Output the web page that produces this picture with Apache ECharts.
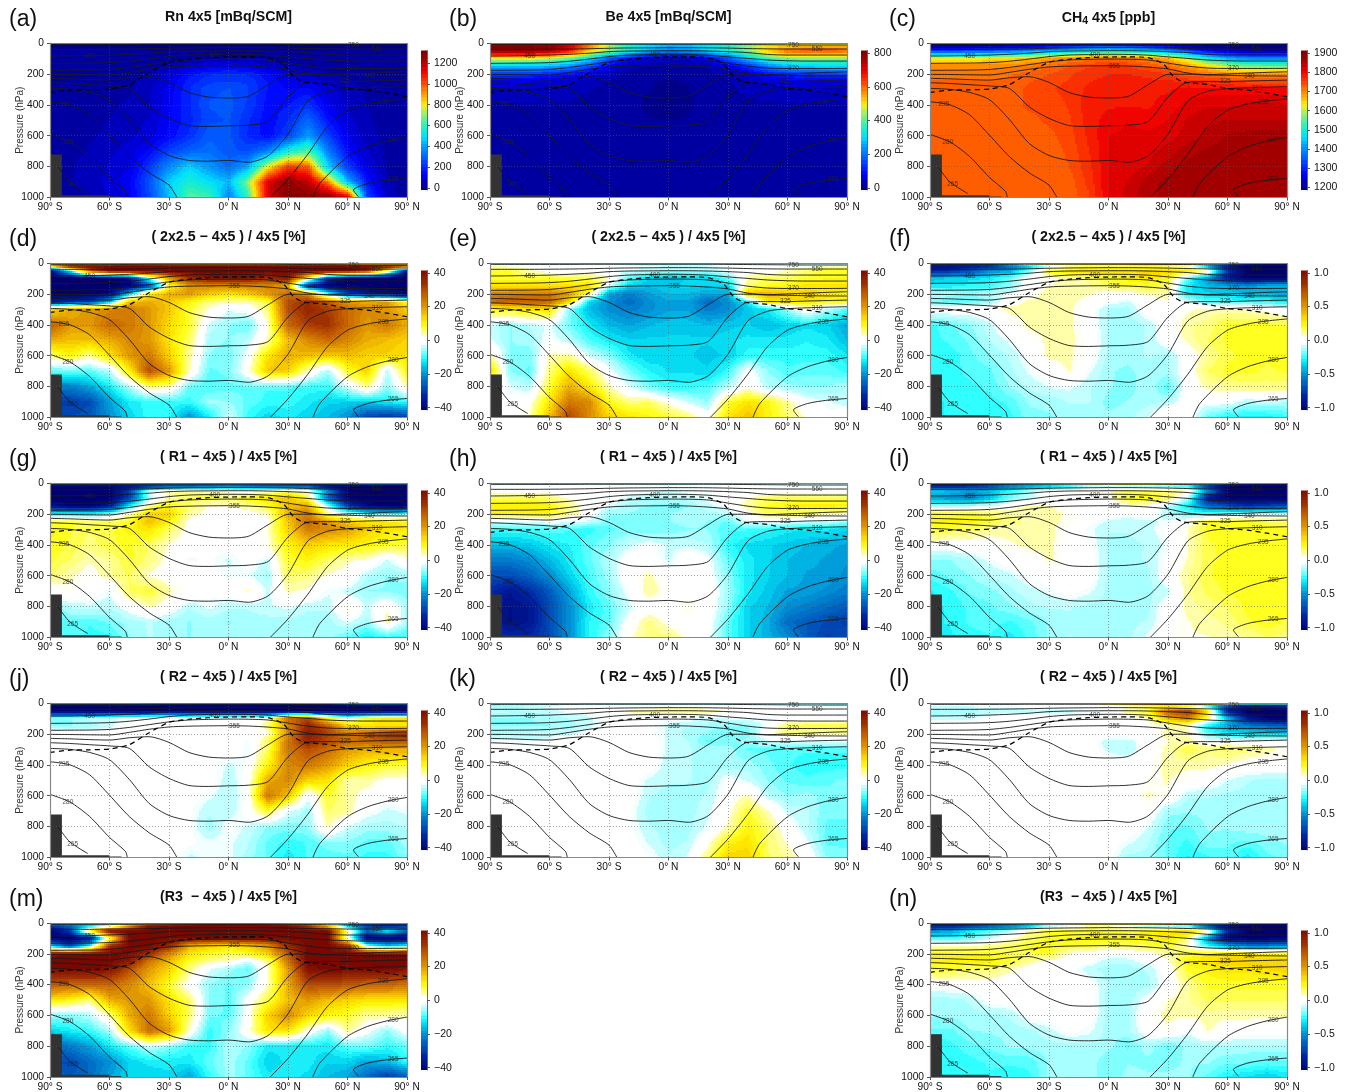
<!DOCTYPE html>
<html><head><meta charset="utf-8">
<style>html,body{margin:0;padding:0;background:#fff}#c{width:1345px;height:1092px}</style>
<script src="https://cdn.jsdelivr.net/npm/echarts@6/dist/echarts.min.js"></script>
</head><body><div id="c"></div>
<script>
const latNodes=[-90,-80,-70,-60,-50,-40,-30,-20,-10,0,10,20,30,40,50,60,70,80,90];
const pressureLevels=[0,20,50,100,150,200,250,300,400,500,600,700,800,900,1000];

const rn4x5=[
[5,5,5,5,5,5,5,5,5,5,5,5,5,5,5,5,5,5,5],
[10,10,10,10,10,10,10,10,10,10,10,10,10,10,10,10,10,10,10],
[15,15,15,15,15,15,15,15,15,15,15,15,15,15,15,15,15,15,15],
[20,20,20,20,20,20,25,30,40,50,45,35,30,25,20,20,20,20,20],
[25,25,25,25,25,30,40,80,110,120,110,80,50,35,25,25,25,25,25],
[30,30,30,30,30,50,90,160,200,210,200,150,90,70,45,35,30,30,30],
[30,30,30,30,35,60,110,190,230,240,230,170,120,110,70,50,35,30,30],
[30,30,30,35,40,70,120,200,260,270,240,170,140,150,90,60,40,30,30],
[30,30,30,40,50,70,130,200,270,280,230,160,170,220,120,70,45,30,30],
[30,30,30,45,60,80,140,190,260,270,210,150,200,310,170,90,50,30,30],
[30,30,35,60,70,90,150,210,290,280,200,150,240,400,240,110,60,30,30],
[35,35,50,70,90,150,240,300,320,280,260,350,550,640,350,150,80,35,30],
[40,40,60,80,110,220,380,480,400,320,420,800,1050,1000,500,230,110,40,30],
[40,40,60,90,130,270,480,560,500,450,700,1150,1280,1200,950,450,170,50,30],
[30,30,50,80,120,250,450,650,620,350,600,1150,1300,1300,1300,1200,250,60,30]];
const be4x5=[
[760,760,760,760,700,560,420,330,280,260,270,290,330,400,440,460,470,470,470],
[800,800,800,800,720,600,450,350,300,270,280,310,360,430,500,520,540,540,540],
[780,780,780,760,680,520,430,340,260,220,240,300,340,420,520,600,610,610,600],
[520,520,510,480,430,330,190,100,60,50,55,80,180,290,400,440,440,440,440],
[300,300,290,280,240,170,80,40,25,20,22,30,70,130,220,280,300,310,310],
[140,140,135,120,100,70,40,20,12,10,12,18,35,60,100,130,140,140,150],
[70,70,65,60,50,35,25,14,8,7,8,12,25,35,50,60,65,70,70],
[45,45,45,40,35,28,22,12,8,6,7,12,25,30,35,40,45,45,45],
[25,25,25,25,25,22,20,10,6,5,6,12,22,25,25,25,25,25,25],
[18,18,18,18,18,18,18,10,8,8,8,14,18,18,18,18,18,18,18],
[18,18,18,18,18,18,18,18,18,18,18,18,18,18,18,18,18,18,18],
[18,18,18,18,18,18,18,18,18,18,18,18,18,18,18,18,18,18,18],
[18,18,18,18,18,18,18,18,18,18,18,18,18,18,18,18,18,18,18],
[18,18,18,18,18,18,18,18,18,18,18,18,18,18,18,18,18,18,18],
[18,18,18,18,18,18,18,18,18,18,18,18,18,18,18,18,18,18,18]];
const ch44x5=[
[1180,1180,1180,1180,1180,1180,1180,1180,1180,1180,1180,1180,1180,1180,1180,1180,1180,1180,1180],
[1210,1210,1210,1220,1230,1240,1260,1280,1300,1310,1300,1280,1250,1220,1200,1190,1190,1190,1190],
[1330,1330,1340,1350,1370,1400,1430,1470,1500,1510,1500,1470,1420,1340,1270,1240,1220,1220,1220],
[1620,1620,1620,1630,1640,1660,1680,1700,1710,1720,1710,1700,1670,1590,1480,1420,1390,1390,1390],
[1700,1700,1700,1700,1700,1710,1720,1740,1755,1765,1760,1740,1720,1690,1640,1590,1560,1550,1550],
[1715,1715,1715,1715,1720,1730,1740,1755,1770,1775,1775,1770,1760,1730,1720,1700,1690,1690,1690],
[1725,1725,1725,1725,1730,1740,1750,1760,1775,1780,1785,1780,1780,1775,1770,1760,1750,1750,1750],
[1725,1725,1725,1728,1732,1745,1755,1765,1780,1785,1790,1790,1790,1800,1800,1800,1800,1800,1800],
[1725,1725,1725,1725,1730,1745,1745,1760,1785,1790,1790,1790,1800,1815,1825,1825,1830,1830,1830],
[1725,1725,1725,1725,1725,1735,1745,1755,1785,1800,1810,1800,1810,1830,1840,1845,1845,1845,1845],
[1725,1725,1725,1725,1725,1730,1735,1750,1780,1810,1815,1815,1820,1835,1850,1865,1870,1870,1870],
[1725,1725,1725,1725,1725,1728,1730,1745,1775,1810,1815,1820,1835,1855,1865,1870,1870,1870,1870],
[1725,1725,1725,1725,1725,1725,1728,1740,1770,1810,1815,1830,1855,1870,1870,1870,1870,1870,1870],
[1725,1725,1725,1725,1725,1725,1725,1730,1765,1810,1830,1855,1870,1870,1870,1870,1870,1870,1870],
[1725,1725,1725,1725,1725,1725,1725,1728,1755,1810,1835,1855,1870,1875,1875,1875,1875,1875,1875]];
const diffD=[
[10,10,10,15,20,20,15,10,10,10,10,15,15,15,15,10,10,10,10],
[20,42,42,42,42,42,42,42,42,42,42,42,42,42,42,42,42,42,38],
[-40,-12,28,42,42,42,42,42,42,42,42,42,42,42,42,42,35,5,-40],
[-42,-42,-42,-42,-38,-5,20,35,40,40,40,35,40,10,-30,-42,-42,-42,-42],
[-42,-42,-42,-42,-42,-30,8,20,22,22,22,22,18,-35,-42,-42,-42,-42,-42],
[-42,-42,-42,-40,-15,12,18,20,15,12,15,20,26,22,-8,-30,-35,-38,-42],
[-35,-32,-30,-15,16,18,15,10,5,4,3,8,30,34,28,20,18,20,8],
[12,18,20,22,24,20,15,8,2,-2,0,5,30,36,32,26,22,20,15],
[28,20,20,26,24,20,13,8,-3,-6,-8,2,26,32,34,26,20,24,18],
[18,16,16,18,22,20,12,6,-5,-6,-4,3,16,22,26,22,18,16,14],
[5,10,4,12,20,24,14,4,-6,-7,-1,12,18,16,14,16,14,14,12],
[-8,-8,-8,-4,10,30,20,3,-8,-7,1,15,14,3,-5,8,14,-4,10],
[-22,-22,-18,-12,-5,4,3,-8,-9,-8,-8,-9,-9,-10,-10,-3,4,-6,3],
[-30,-30,-28,-18,-12,-10,-10,-10,-5,-6,-8,-10,-10,-12,-14,-14,-14,-12,-10],
[-26,-28,-26,-20,-14,-10,-10,-20,-12,-2,-10,-14,-12,-14,-16,-20,-30,-32,-30]];
const diffE=[
[-5,-5,-5,-5,-5,-5,-5,-8,-10,-10,-10,-10,-5,-5,-5,-5,-5,-5,-5],
[2,1,1,1,0,0,0,0,-2,-2,-2,-2,0,1,1,1,1,2,2],
[8,8,3,1,1,1,-1,-3,-4,-5,-5,-5,-2,1,1,3,6,9,9],
[8,8,8,8,7,6,3,-8,-14,-16,-14,-14,-8,4,6,6,8,9,9],
[12,12,12,12,12,14,-3,-14,-16,-14,-14,-14,-14,5,8,10,12,12,12],
[22,24,24,24,20,6,-18,-22,-18,-16,-16,-18,-18,16,18,14,14,12,10],
[26,28,28,26,14,-14,-20,-24,-20,-18,-18,-24,-20,-12,12,12,12,10,10],
[8,10,12,12,-6,-16,-20,-22,-20,-18,-18,-22,-20,-15,-12,-5,2,-4,-8],
[-3,-6,-4,-2,-7,-12,-16,-18,-16,-15,-15,-16,-15,-14,-16,-14,-13,-14,-18],
[-2,-6,-5,-1,-4,-9,-12,-14,-14,-14,-14,-14,-13,-12,-12,-12,-11,-12,-16],
[4,-6,-7,3,4,-3,-6,-12,-14,-13,-14,-15,-14,-10,-10,-10,-10,-10,-12],
[14,-6,-8,5,12,6,-1,-7,-11,-13,-13,-14,-10,0,-6,-9,-8,-8,-10],
[0,-2,-4,8,18,12,3,-2,-7,-10,-10,-9,-4,2,-4,-5,-6,-6,-4],
[0,-1,1,12,24,22,9,5,6,1,-3,-6,8,12,10,4,-1,-2,-4],
[0,0,3,16,32,22,14,12,10,8,6,0,12,16,10,6,2,-1,2]];
const diffF=[
[-.6,-.6,-.6,-.5,-.2,.3,.3,.3,.4,.4,.6,.9,.9,.6,.2,-.3,-.8,-.9,-.9],
[-.95,-.95,-.9,-.85,-.6,-.4,-.1,.05,.12,.15,.15,.15,.1,.05,-.5,-.95,-1.05,-1.05,-1.05],
[-.85,-.8,-.7,-.5,-.45,-.15,.2,.3,.35,.3,.3,.35,.35,.3,.1,-.8,-1.05,-1.05,-1.05],
[-.4,-.35,-.35,-.3,-.2,.02,.05,.08,.12,.2,.25,.3,.25,-.2,-.5,-.9,-1.05,-1.05,-1.05],
[-.3,-.3,-.25,-.25,-.15,0,.06,.08,.1,.15,.2,.2,.15,-.3,-.4,-.45,-.5,-.4,-.4],
[-.1,-.12,-.15,-.1,-.06,.02,.1,.1,.07,.02,.03,.08,.1,-.3,-.35,-.35,-.4,-.4,-.45],
[-.2,-.2,-.2,-.15,.02,.08,.08,.08,.03,-.02,-.08,.01,.05,-.05,-.2,-.22,-.22,-.25,-.3],
[0,0,0,.02,.08,.08,.09,.08,0,-.12,-.12,.01,0,.05,.08,.08,.07,.03,-.02],
[-.25,-.2,-.15,-.08,.02,.08,.09,.08,0,-.12,-.13,-.1,0,.1,.12,.2,.2,.2,.2],
[-.25,-.22,-.18,-.1,-.05,.02,.08,.08,.02,-.12,-.13,-.1,0,.08,.15,.2,.2,.2,.2],
[-.27,-.26,-.2,-.15,-.1,-.02,.08,.08,0,-.12,-.13,-.1,-.12,0,.1,.18,.2,.2,.2],
[-.27,-.25,-.22,-.2,-.12,-.05,0,.07,-.05,-.14,-.16,-.12,-.12,0,.15,.2,.2,.18,.2],
[-.28,-.26,-.24,-.22,-.15,-.1,-.06,-.05,-.1,-.14,-.18,-.1,-.22,0,.08,.1,.12,.12,.12],
[-.28,-.27,-.26,-.25,-.22,-.14,-.14,-.1,-.1,-.17,-.14,-.12,-.1,0,-.02,-.02,-.1,-.08,-.1],
[-.28,-.27,-.27,-.27,-.25,-.16,-.15,-.14,-.14,-.13,-.12,-.06,.06,.02,-.2,-.28,-.3,-.3,-.25]];
const diffG=[
[-20,-20,-20,-20,-20,-20,-20,-20,-20,-20,-20,-20,-20,-20,-20,-20,-20,-20,-20],
[-40,-40,-40,-40,-38,-35,-30,-30,-28,-25,-28,-30,-30,-30,-40,-42,-42,-42,-42],
[-42,-42,-42,-42,-30,-2,4,5,3,2,1,2,6,2,-20,-42,-42,-42,-42],
[-42,-42,-42,-42,-30,-5,3,6,8,5,10,12,16,8,-25,-42,-42,-42,-42],
[-38,-42,-42,-36,-12,4,10,6,2,3,4,8,16,18,-5,-30,-40,-42,-42],
[-10,-10,-10,-6,3,14,14,4,1,0,1,3,18,24,6,-3,-8,-10,-8],
[8,8,6,6,8,16,10,1,0,0,0,1,15,26,20,15,12,12,10],
[10,8,6,7,10,12,6,1,0,0,0,2,14,24,22,20,14,12,11],
[9,7,5,7,8,6,2,0,-1,0,0,2,10,14,12,11,10,8,7],
[8,6,3,4,8,5,1,-2,-1,-3,0,-3,8,10,6,3,2,-3,2],
[6,3,1,4,6,2,1,1,0,-2,-2,-5,6,5,2,1,-4,-6,-5],
[0,2,0,-2,6,8,3,1,-1,0,3,-3,3,2,-2,-3,-6,-6,-7],
[-8,-4,-3,-4,-1,3,0,-4,-2,-4,-4,-3,-2,-4,-4,3,-3,2,-5],
[-10,-8,-9,-7,-5,-4,-5,-6,-5,-6,-5,-5,-5,-5,-5,-2,-5,4,-5],
[-9,-8,-10,-10,-6,-4,-5,-6,-5,-5,-5,-4,-5,-5,-5,-8,-12,-10,-10]];
const diffH=[
[-6,-6,-6,-6,-6,-6,-6,-6,-6,-6,-6,-6,-6,-6,-6,-6,-6,-6,-6],
[0,0,0,0,0,0,0,0,-1,-1,-1,0,0,0,0,0,0,0,0],
[1,1,1,1,0,0,0,-1,-2,-3,-2,-2,0,0,0,1,1,1,1],
[7,7,7,5,2,1,0,-3,-4,-4,-3,-2,0,2,6,7,7,7,7],
[10,10,10,10,4,1,-2,-5,-6,-7,-6,-3,-1,4,8,10,10,10,10],
[10,10,10,9,5,0,-6,-6,-7,-6,-5,-5,-4,1,7,6,6,5,3],
[-3,-3,-3,-1,-2,-3,-7,-6,-6,-6,-5,-6,-8,-2,-1,-1,-3,-4,-5],
[-9,-9,-9,-8,-9,-10,-8,-7,-7,-7,-6,-6,-9,-9,-10,-12,-12,-12,-14],
[-16,-16,-15,-12,-11,-8,-6,-3,-1,-3,-3,-4,-10,-13,-14,-15,-16,-17,-18],
[-22,-22,-20,-16,-12,-8,-4,0,0,-3,1,-1,-8,-12,-14,-16,-17,-18,-19],
[-28,-28,-25,-20,-14,-9,-5,1,3,0,1,0,-6,-12,-14,-16,-18,-18,-20],
[-32,-36,-32,-26,-18,-10,-6,-1,4,1,1,1,-5,-12,-15,-18,-18,-20,-22],
[-34,-38,-36,-28,-20,-12,-8,-3,0,1,2,1,-6,-14,-16,-20,-22,-24,-26],
[-34,-38,-36,-28,-20,-11,-8,0,5,1,1,0,-8,-14,-17,-24,-26,-28,-30],
[-30,-32,-32,-28,-20,-11,-6,2,5,5,1,-1,-8,-14,-17,-20,-26,-30,-28]];
const diffI=[
[-.9,-.9,-.9,-.7,-.4,-.3,-.2,0,.2,.2,.5,.4,.4,.2,-.2,-.6,-.8,-.9,-.9],
[-.9,-.9,-.85,-.75,-.6,-.5,-.4,-.3,-.15,-.1,-.2,-.2,-.25,-.3,-.8,-1.05,-1.05,-1.05,-1.05],
[-.35,-.4,-.45,-.4,-.25,-.1,0,0,.05,.05,.2,.15,.12,.1,-.5,-1.05,-1.05,-1.05,-1.05],
[-.45,-.5,-.55,-.4,-.2,-.08,-.02,0,.02,.05,.2,.25,.2,-.1,-.9,-1.05,-1.05,-1.05,-1.05],
[-.15,-.12,-.1,-.08,.02,.08,.07,.01,0,0,.05,.06,-.1,-.3,-.6,-.7,-.8,-.75,-.7],
[.2,.2,.2,.15,.1,.08,.09,.05,0,0,-.02,0,-.1,-.2,-.2,-.15,-.1,-.1,-.1],
[.25,.27,.25,.2,.12,.1,.08,.05,-.02,-.08,-.1,-.08,-.05,.02,.2,.2,.2,.18,.18],
[.2,.18,.15,.1,.09,.08,.08,.02,-.05,-.1,-.1,-.08,-.02,.06,.2,.22,.2,.2,.2],
[.01,0,0,.01,.05,.08,.08,.01,-.02,-.12,-.12,-.1,-.05,.06,.18,.2,.2,.2,.2],
[-.15,-.15,-.1,-.05,0,.01,.07,.02,0,-.12,-.12,-.1,-.02,.07,.18,.2,.22,.2,.2],
[-.22,-.18,-.15,-.1,-.08,-.02,0,.01,0,-.12,-.12,-.12,0,.1,.18,.22,.2,.2,.2],
[-.28,-.24,-.18,-.16,-.12,-.08,-.05,-.01,-.05,-.12,-.12,-.12,-.08,.1,.16,.2,.2,.2,.2],
[-.28,-.27,-.22,-.2,-.16,-.12,-.1,-.1,-.12,-.12,-.13,-.12,0,.08,.12,.15,.2,.22,.2],
[-.28,-.27,-.22,-.2,-.24,-.2,-.14,-.12,-.12,-.12,-.12,-.1,.01,.06,.08,.12,.18,.22,.18],
[-.28,-.28,-.26,-.24,-.3,-.22,-.14,-.1,-.12,-.12,-.12,-.05,.03,.06,.06,.08,.1,.15,.12]];
const diffJ=[
[-20,-20,-25,-25,-25,-25,-30,-30,-35,-35,-35,-30,-30,-30,-30,-20,-20,-20,-20],
[-42,-42,-42,-42,-42,-42,-42,-42,-42,-42,-42,-42,-42,-42,-42,-42,-42,-42,-42],
[-42,-42,-42,-42,-42,-42,-42,-42,-42,-42,-42,-42,-42,-42,-42,-42,-42,-42,-42],
[-6,-6,-4,-3,-2,0,0,0,0,0,0,2,26,30,8,-2,8,12,12],
[-6,-6,-5,-3,-1,0,0,-1,-1,0,0,4,22,36,28,14,12,12,12],
[0,0,0,0,0,0,0,0,0,0,0,2,22,38,32,24,28,34,36],
[0,0,0,0,0,0,0,0,0,0,-2,6,24,36,30,26,26,28,28],
[0,0,0,0,0,0,0,0,0,0,-2,6,24,30,26,20,18,18,18],
[0,0,0,0,0,0,0,0,0,-3,-1,10,22,24,20,14,10,8,8],
[0,0,0,0,0,0,0,0,0,-4,0,18,22,14,12,3,4,1,1],
[0,0,0,0,0,0,0,0,-2,-4,-1,24,16,-2,8,4,1,0,0],
[0,0,0,0,0,0,0,-1,-4,-4,0,8,-2,-5,6,4,-1,-3,-2],
[0,0,0,0,0,0,0,-1,-5,-1,-3,-6,-7,-6,3,-3,-5,-5,-4],
[0,0,0,0,0,0,0,-1,-2,-2,-4,-8,-10,-9,-6,-6,-8,-8,-5],
[0,0,0,0,0,0,0,-3,-2,-2,-5,-8,-12,-9,-9,-8,-10,-10,-6]];
const diffK=[
[-8,-8,-8,-8,-8,-8,-8,-8,-8,-8,-8,-8,-8,-8,-8,-8,-8,-8,-8],
[-6,-5,-4,-2,-1,0,0,0,0,0,0,0,0,0,0,0,0,-2,-2],
[-3,-4,-4,-3,-2,-1,1,3,4,5,5,4,2,1,0,0,0,0,0],
[-6,-6,-6,-5,-4,-3,-1,-1,-1,-1,-1,-3,-2,-1,-2,-2,-1,-1,-1],
[-6,-6,-6,-6,-5,-3,-1,0,-1,-3,-4,-5,-6,-6,-1,6,7,7,7],
[-5,-4,-4,-3,-3,-1,0,0,-1,-3,-5,-6,-8,-7,1,5,5,5,4],
[-2,-2,-2,-2,0,0,0,0,0,-3,-4,-8,-7,-5,-3,-3,-2,-3,-3],
[0,0,0,0,0,0,0,0,0,-3,-4,-5,-5,-8,-8,-9,-9,-9,-9],
[0,0,0,0,0,0,0,0,0,-4,-4,-5,-5,-5,-7,-9,-10,-10,-10],
[0,0,0,0,0,0,0,0,-3,-4,-4,-5,-1,-3,-6,-8,-9,-8,-7],
[0,0,0,0,0,0,0,0,-4,-5,-5,-4,0,3,-4,-6,-5,-7,-7],
[0,0,0,0,0,0,0,-1,-5,-5,-5,-3,1,8,3,-3,-4,-7,-7],
[0,0,0,0,0,0,0,-1,-4,-5,-5,-2,3,10,6,0,-4,-8,-8],
[0,0,0,0,0,0,0,0,-3,-5,-4,1,10,12,6,2,-2,-8,-8],
[0,0,0,0,0,0,0,0,-1,-4,-2,5,14,14,6,4,1,-6,-7]];
const diffL=[
[0,0,0,0,0,0,0,0,0,.2,.6,.8,.9,.7,.6,.3,.1,.1,.1],
[-.05,-.05,-.05,-.05,-.05,0,0,0,0,.01,.05,.1,.2,.1,-.3,-.7,-.9,-.9,-.8],
[-.12,-.12,-.12,-.1,-.1,-.1,-.08,-.08,-.05,-.04,.12,.2,.7,.85,.3,-.9,-1.05,-1.05,-1.05],
[-.1,-.08,-.08,-.02,0,0,0,0,0,.01,.01,.08,.45,.6,.2,-.4,-.9,-1.05,-1.05],
[0,0,0,0,0,0,0,0,0,0,0,.02,.06,.08,-.3,-.45,-.55,-.6,-.65],
[0,0,0,0,0,0,0,0,0,0,0,.02,.08,.08,-.2,-.3,-.3,-.35,-.35],
[0,0,0,0,0,0,0,0,0,-.1,-.1,0,.06,.1,0,0,-.02,-.02,-.02],
[0,0,0,0,0,0,0,0,0,-.08,-.11,.01,.08,.18,.12,.16,.12,.08,.05],
[0,0,0,0,0,0,0,0,0,0,0,.02,.08,.08,.08,.05,.02,.01,.01],
[0,0,0,0,0,0,0,0,0,0,0,.04,.07,.03,0,-.06,-.1,-.12,-.12],
[0,0,0,0,0,0,0,0,0,0,0,.07,.05,-.1,-.1,-.12,-.12,-.12,-.12],
[0,0,0,0,0,0,0,0,0,0,0,.03,-.13,-.14,-.13,-.12,-.12,-.12,-.12],
[0,0,0,0,0,0,0,0,0,0,0,-.06,-.18,-.2,-.14,-.14,-.12,-.12,-.12],
[0,0,0,0,0,0,0,0,0,0,-.05,-.1,-.2,-.24,-.16,-.18,-.2,-.16,-.14],
[0,0,0,0,0,0,0,0,0,-.02,-.12,-.12,-.2,-.28,-.24,-.2,-.3,-.2,-.18]];
const diffM=[
[-20,-15,-10,0,10,15,25,35,40,42,42,38,25,15,5,-20,-30,-30,-30],
[-30,-25,-15,-5,20,40,42,42,42,42,42,42,42,35,15,-15,-30,-35,-30],
[-42,-30,10,42,42,42,42,42,42,42,42,42,42,42,42,5,-25,-10,-25],
[-42,-42,-38,5,42,42,42,42,42,42,42,42,42,42,42,0,-42,-42,-42],
[-15,-30,-10,35,42,42,36,18,14,12,14,20,36,42,42,35,-5,-15,-10],
[40,42,42,42,42,35,22,12,9,7,9,14,28,42,42,42,42,42,42],
[42,42,42,42,38,24,16,8,4,2,-3,4,24,42,42,42,42,42,42],
[42,42,42,40,30,20,14,5,-2,-5,-8,2,20,40,42,42,42,42,40],
[28,26,26,26,22,16,8,0,-6,-8,-6,3,18,30,30,28,26,26,24],
[12,10,5,18,20,20,12,6,-6,-8,0,7,16,20,16,14,12,12,12],
[-5,-6,-4,4,18,24,14,6,-7,-8,0,14,22,14,10,8,4,4,3],
[-14,-12,-10,-5,12,26,20,2,-10,-6,1,12,12,1,-6,4,-1,-6,0],
[-26,-22,-18,-12,-8,-3,-6,-10,-10,-4,-6,-12,-12,-12,-12,-8,-7,-10,-8],
[-28,-28,-24,-20,-14,-12,-12,-12,-8,-5,-8,-14,-12,-12,-14,-14,-18,-16,-10],
[-24,-26,-24,-18,-14,-14,-13,-18,-10,-5,-8,-12,-12,-13,-16,-18,-24,-30,-26]];
const diffN=[
[-.9,-.9,-.8,-.6,-.4,-.2,.1,.15,.3,.3,.35,.5,.5,.4,-.1,-.6,-.9,-1,-1],
[-.9,-.9,-.8,-.7,-.6,-.45,-.15,-.1,.05,.05,-.1,-.2,-.25,-.3,-.8,-1.05,-1.05,-1.05,-1.05],
[-.5,-.45,-.3,-.2,-.1,.1,.2,.2,.22,.2,.2,.25,.3,.4,.1,-.8,-1.05,-1.05,-1.05],
[-.25,-.25,-.2,-.08,.02,.14,.2,.22,.25,.25,.25,.25,.3,.15,-.5,-1.05,-1.05,-1.05,-1.05],
[.06,.06,.06,.1,.15,.2,.22,.2,.18,.15,.15,.18,.2,.06,-.25,-.45,-.55,-.55,-.5],
[.25,.25,.25,.22,.18,.18,.2,.05,.01,-.02,0,.02,.1,.2,.3,.3,.3,.28,.25],
[.25,.25,.25,.25,.2,.1,.02,.01,-.02,-.1,-.1,-.02,.04,.25,.3,.35,.35,.35,.35],
[.2,.2,.15,.15,.08,.01,0,0,-.1,-.12,-.12,-.1,0,.2,.25,.3,.3,.32,.35],
[-.02,-.01,0,0,0,0,0,0,0,-.12,-.13,-.12,-.01,.1,.2,.2,.2,.2,.2],
[-.13,-.12,-.1,-.01,0,0,0,0,0,-.13,-.13,-.02,.06,.1,.16,.16,.16,.16,.16],
[-.14,-.14,-.12,-.12,-.1,-.02,0,0,0,-.13,-.12,.03,.08,.07,.09,.08,.08,.07,.07],
[-.2,-.2,-.15,-.14,-.13,-.12,-.08,-.02,-.05,-.13,-.12,0,.05,-.05,.07,0,0,0,0],
[-.26,-.25,-.2,-.18,-.14,-.13,-.12,-.12,-.12,-.13,-.2,-.12,-.2,-.13,-.12,-.1,-.12,-.12,-.12],
[-.26,-.26,-.25,-.22,-.22,-.22,-.14,-.12,-.12,-.18,-.15,-.16,-.16,-.14,-.14,-.18,-.18,-.2,-.2],
[-.26,-.26,-.26,-.24,-.26,-.24,-.14,-.13,-.13,-.18,-.13,-.14,-.14,-.14,-.2,-.28,-.32,-.36,-.3]];

// isentropes: [latitude, pressure]
const th750=latNodes.map((la,i)=>[la,[9,9,9,9,9,8,8,8,8,8,8,8,9,10,11,12,13,13,13][i]]);
const th550=latNodes.map((la,i)=>[la,[41,41,41,40,39,37,34,32,31,30,30,31,33,36,38,39,39,39,39][i]]);
const th450=latNodes.map((la,i)=>[la,[84,83,81,78,73,66,56,52,51,50,50,52,56,62,74,78,78,78,78][i]]);
const th400=latNodes.map((la,i)=>[la,[132,131,130,127,118,104,88,78,75,73,74,79,90,100,110,115,117,117,117][i]]);
const th370=latNodes.map((la,i)=>[la,[177,176,175,171,158,140,122,110,106,104,105,110,130,150,162,165,165,165,164][i]]);
const th355=latNodes.map((la,i)=>[la,[203,204,206,207,190,170,155,150,148,147,149,156,168,195,205,200,195,190,186][i]]);
const th340=latNodes.map((la,i)=>[la,[229,232,237,240,225,218,255,320,350,356,345,270,203,202,207,209,212,213,214][i]]);
const th325=latNodes.map((la,i)=>[la,[257,262,270,278,294,413,488,534,540,536,532,508,350,254,250,250,246,243,240][i]]);
const th310=latNodes.map((la,i)=>[la,[294,300,320,367,495,650,728,760,765,760,772,730,590,375,312,296,290,286,283][i]]);
const th295=[[-90,380],[-80,400],[-70,465],[-60,597],[-50,735],[-40,840],[-30,920],[-26,1000],null,[21,1000],[30,880],[40,720],[50,540],[60,435],[70,395],[80,375],[90,362]];
const th280=[[-90,592],[-80,640],[-70,735],[-60,870],[-52,960],[-51,1000],null,[42.5,1000],[46,910],[60,736],[70,672],[80,635],[90,611]];
const th265=[[-86,801],[-80,899],[-71,974],null,[65.5,995],[63,952],[70,910],[80,888],[90,877]];
const isentropes=[th750,th550,th450,th400,th370,th355,th340,th325,th310,th295,th280,th265];
const tropopause=[[-90,320],[-80,305],[-70,303],[-60,298],[-50,270],[-40,192],[-30,125],[-20,105],[-10,95],[0,91],[10,90],[20,95],[27.7,136],[32.8,218],[37.9,253],[50,268],[60,295],[70,305],[80,325],[90,348]];
const contourLabels=[[63,13,'750'],[75,39,'550'],[-70,84,'450'],[-7,78,'400'],[63,164,'370'],[3,147,'355'],[71,218,'340'],[59,250,'325'],[75,292,'310'],[78,380,'295'],[-83,397,'295'],[83,628,'280'],[-81,639,'280'],[83,883,'265'],[-78.6,915,'265']];
const terrainSteps=[[-90,-84,722],[-84,-60,985],[-60,-54,994]];
const gridLats=[-60,-30,0,30,60];
const gridPress=[200,400,600,800];
const latTicks=[-90,-60,-30,0,30,60,90];

const rainbowStops=[[0,'#00007c'],[.05,'#0000b0'],[.12,'#0000ff'],[.2,'#0044ff'],[.33,'#00a8ff'],[.38,'#00e0ff'],[.45,'#20f0c0'],[.52,'#70f090'],[.6,'#f0f020'],[.63,'#ffe000'],[.7,'#ff9000'],[.78,'#ff4000'],[.85,'#f00000'],[.92,'#b00000'],[1,'#780000']];
const divergeStops=[[-1,'#000070'],[-.8,'#0020a0'],[-.6,'#0060c0'],[-.45,'#0098d8'],[-.33,'#00d8f0'],[-.24,'#30ffff'],[-.12,'#a8ffff'],[-.05,'#d8ffff'],[-.035,'#ffffff'],[.035,'#ffffff'],[.07,'#ffffb4'],[.12,'#ffff80'],[.2,'#ffff20'],[.28,'#ffe800'],[.38,'#f4c000'],[.5,'#dc9000'],[.65,'#c46000'],[.8,'#a03000'],[1,'#780800']];

function hex(c){return [parseInt(c.slice(1,3),16),parseInt(c.slice(3,5),16),parseInt(c.slice(5,7),16)];}
function ramp(stops,t){
  if(t<=stops[0][0])return stops[0][1];
  for(let i=1;i<stops.length;i++){
    if(t<=stops[i][0]){
      const a=stops[i-1],b=stops[i],f=(t-a[0])/(b[0]-a[0]),A=hex(a[1]),B=hex(b[1]);
      return 'rgb('+A.map((v,k)=>Math.round(v+(B[k]-v)*f)).join(',')+')';
    }
  }
  return stops[stops.length-1][1];
}
function makeScale(kind,min,max){
  const cache={};
  if(kind==='rainbow'){
    const n=42;
    return v=>{const k=Math.max(0,Math.min(n-1,Math.floor((v-min)/(max-min)*n)));
      return cache[k]||(cache[k]=ramp(rainbowStops,(k+.5)/n));};
  }
  const step=.04,R=max;
  return v=>{const t=Math.max(-1,Math.min(1,v/R));
    if(Math.abs(t)<.035)return '#ffffff';
    const k=Math.round(t/step);
    return cache[k]||(cache[k]=ramp(divergeStops,k*step));};
}
function cellRenderer(color){
  const sw=2,sh=2;
  return function(params,api){
    const la0=api.value(0),p0=api.value(1),la1=api.value(2),p1=api.value(3);
    const v00=api.value(4),v10=api.value(5),v01=api.value(6),v11=api.value(7);
    const a=api.coord([la0,p0]),b=api.coord([la1,p1]);
    const x0=Math.round(a[0]),x1=Math.round(b[0]),y0=Math.round(a[1]),y1=Math.round(b[1]);
    const kids=[];
    for(let y=y0;y<y1;y+=sh){
      const h=Math.min(sh,y1-y),fy=(y+h/2-y0)/(y1-y0);
      let start=x0,cur=null;
      for(let x=x0;x<x1;x+=sw){
        const w=Math.min(sw,x1-x),fx=(x+w/2-x0)/(x1-x0);
        const v=(v00*(1-fx)+v10*fx)*(1-fy)+(v01*(1-fx)+v11*fx)*fy;
        const c=color(v);
        if(c!==cur){
          if(cur!==null)kids.push({type:'rect',shape:{x:start,y,width:x-start,height:h},style:{fill:cur}});
          cur=c;start=x;
        }
      }
      kids.push({type:'rect',shape:{x:start,y,width:x1-start,height:h},style:{fill:cur}});
    }
    return {type:'group',children:kids,silent:true};
  };
}
function cellData(m,name){
  if(m.length!==pressureLevels.length)throw new Error(name+' rows '+m.length);
  m.forEach((r,i)=>{if(r.length!==latNodes.length)throw new Error(name+' row '+i+' len '+r.length);});
  const out=[];
  for(let j=0;j<pressureLevels.length-1;j++)for(let i=0;i<latNodes.length-1;i++)
    out.push([latNodes[i],pressureLevels[j],latNodes[i+1],pressureLevels[j+1],m[j][i],m[j][i+1],m[j+1][i],m[j+1][i+1]]);
  return out;
}

const FONT='"Liberation Sans",Arial,sans-serif';
const colX=[50,490,930],rowY=[43,263,483,703,923];
const PW=357,PH=154.5;
const diffTicks=[-40,-20,0,20,40],unitTicks=[-1,-.5,0,.5,1];
const S_DIFF={kind:'div',min:-41.4,max:41.4,R:42,ticks:diffTicks,fmt:v=>v<0?'\u2212'+(-v):''+v};
const S_UNIT={kind:'div',min:-1.035,max:1.035,R:1.05,ticks:unitTicks,fmt:v=>(v<0?'\u2212':'')+Math.abs(v).toFixed(1)};
const panels=[
 {tag:'(a)',title:'Rn 4x5 [mBq/SCM]',m:rn4x5,n:'rn',c:0,r:0,s:{kind:'rainbow',min:-19,max:1321,ticks:[0,200,400,600,800,1000,1200],fmt:v=>''+v}},
 {tag:'(b)',title:'Be 4x5 [mBq/SCM]',m:be4x5,n:'be',c:1,r:0,s:{kind:'rainbow',min:-12,max:815,ticks:[0,200,400,600,800],fmt:v=>''+v}},
 {tag:'(c)',title:'CH{sub|4} 4x5 [ppb]',m:ch44x5,n:'ch4',c:2,r:0,s:{kind:'rainbow',min:1186,max:1914,ticks:[1200,1300,1400,1500,1600,1700,1800,1900],fmt:v=>''+v}},
 {tag:'(d)',title:'( 2x2.5 \u2212 4x5 ) / 4x5 [%]',m:diffD,n:'d',c:0,r:1,s:S_DIFF},
 {tag:'(e)',title:'( 2x2.5 \u2212 4x5 ) / 4x5 [%]',m:diffE,n:'e',c:1,r:1,s:S_DIFF},
 {tag:'(f)',title:'( 2x2.5 \u2212 4x5 ) / 4x5 [%]',m:diffF,n:'f',c:2,r:1,s:S_UNIT},
 {tag:'(g)',title:'( R1 \u2212 4x5 ) / 4x5 [%]',m:diffG,n:'g',c:0,r:2,s:S_DIFF},
 {tag:'(h)',title:'( R1 \u2212 4x5 ) / 4x5 [%]',m:diffH,n:'h',c:1,r:2,s:S_DIFF},
 {tag:'(i)',title:'( R1 \u2212 4x5 ) / 4x5 [%]',m:diffI,n:'i',c:2,r:2,s:S_UNIT},
 {tag:'(j)',title:'( R2 \u2212 4x5 ) / 4x5 [%]',m:diffJ,n:'j',c:0,r:3,s:S_DIFF},
 {tag:'(k)',title:'( R2 \u2212 4x5 ) / 4x5 [%]',m:diffK,n:'k',c:1,r:3,s:S_DIFF},
 {tag:'(l)',title:'( R2 \u2212 4x5 ) / 4x5 [%]',m:diffL,n:'l',c:2,r:3,s:S_UNIT},
 {tag:'(m)',title:'(R3  \u2212 4x5 ) / 4x5 [%]',m:diffM,n:'m',c:0,r:4,s:S_DIFF},
 {tag:'(n)',title:'(R3  \u2212 4x5 ) / 4x5 [%]',m:diffN,n:'n',c:2,r:4,s:S_UNIT}
];

const option={animation:false,backgroundColor:'#fff',textStyle:{fontFamily:FONT},title:[],grid:[],xAxis:[],yAxis:[],series:[]};
panels.forEach(P=>{
  const L=colX[P.c],T=rowY[P.r];
  option.title.push({text:P.tag,left:L-41,top:T-35,padding:0,textStyle:{fontFamily:FONT,fontSize:23,fontWeight:'normal',color:'#111'}});
  option.title.push({text:P.title,left:L+178.5,top:T-33,padding:0,textAlign:'center',textStyle:{fontFamily:FONT,fontSize:14.2,fontWeight:'bold',color:'#111',rich:{sub:{fontSize:10.5,fontWeight:'bold',verticalAlign:'bottom',fontFamily:FONT,color:'#111',padding:[6,0,0,0]}}}});
  const gi=option.grid.length;
  option.grid.push({left:L,top:T,width:PW,height:PH});
  option.xAxis.push({gridIndex:gi,type:'value',min:-90,max:90,interval:30,z:10,
    axisLine:{onZero:false,lineStyle:{color:'#888',width:1.2}},axisTick:{length:3,lineStyle:{color:'#555'}},splitLine:{show:false},
    axisLabel:{fontSize:10.2,color:'#111',margin:5,fontFamily:FONT,hideOverlap:false,showMinLabel:true,showMaxLabel:true,formatter:v=>Math.abs(v)+'\u00b0 '+(v<0?'S':'N')}});
  option.yAxis.push({gridIndex:gi,type:'value',inverse:true,min:0,max:1000,interval:200,z:10,
    name:'Pressure (hPa)',nameLocation:'middle',nameGap:25,nameRotate:90,nameMoveOverlap:false,nameTextStyle:{fontSize:10,color:'#333',fontFamily:FONT},
    axisLine:{onZero:false,lineStyle:{color:'#888',width:1.2}},axisTick:{length:3,lineStyle:{color:'#555'}},splitLine:{show:false},
    axisLabel:{fontSize:10.2,color:'#111',margin:6,fontFamily:FONT,formatter:v=>''+v}});
  const color=P.s.kind==='rainbow'?makeScale('rainbow',P.s.min,P.s.max):makeScale('div',P.s.min,P.s.R);
  option.series.push({type:'custom',xAxisIndex:gi,yAxisIndex:gi,silent:true,z:1,progressive:0,clip:true,
    renderItem:cellRenderer(color),encode:{x:[0,2],y:[1,3]},dimensions:['la0','p0','la1','p1','v00','v10','v01','v11'],data:cellData(P.m,P.n)});
  option.series.push({type:'custom',xAxisIndex:gi,yAxisIndex:gi,silent:true,z:3,clip:true,encode:{x:[0,1],y:2},
    renderItem:(params,api)=>{const a=api.coord([api.value(0),api.value(2)]),b=api.coord([api.value(1),1000]);
      return {type:'rect',shape:{x:a[0],y:a[1],width:b[0]-a[0],height:b[1]-a[1]},style:{fill:'#333333'}};},
    data:terrainSteps});
  isentropes.forEach(d=>option.series.push({type:'line',xAxisIndex:gi,yAxisIndex:gi,data:d,silent:true,z:5,symbol:'none',smooth:.25,connectNulls:false,clip:true,
    lineStyle:{color:'#1a1a1a',width:.9}}));
  option.series.push({type:'line',xAxisIndex:gi,yAxisIndex:gi,data:tropopause,silent:true,z:6,symbol:'none',smooth:.2,clip:true,
    lineStyle:{color:'#000',width:1.2,type:[5,4]},
    markLine:{silent:true,symbol:'none',animation:false,label:{show:false},z:4,lineStyle:{color:'rgba(90,90,90,0.55)',type:[1,2],width:1},
      data:gridLats.map(v=>({xAxis:v})).concat(gridPress.map(v=>({yAxis:v})))}});
  option.series.push({type:'scatter',xAxisIndex:gi,yAxisIndex:gi,silent:true,z:7,symbolSize:1,itemStyle:{color:'rgba(0,0,0,0)'},
    data:contourLabels,label:{show:true,position:'inside',fontSize:6.5,color:'#222',fontFamily:FONT,formatter:o=>o.value[2]}});
  option.series.push({type:'line',xAxisIndex:gi,yAxisIndex:gi,data:[],silent:true,z:8,clip:false,symbol:'none',
    markLine:{silent:true,symbol:'none',animation:false,label:{show:false},lineStyle:{color:'#888',type:'solid',width:1.2},data:[{yAxis:0},{xAxis:90}]}});

  // colour bar
  const bi=option.grid.length;
  const BT=T+7.5,BH=139.5;
  option.grid.push({left:L+371,top:BT,width:6,height:BH});
  option.xAxis.push({gridIndex:bi,type:'value',min:0,max:1,show:false});
  option.yAxis.push({gridIndex:bi,type:'value',position:'right',min:P.s.min,max:P.s.max,z:10,
    axisLine:{show:true,onZero:false,lineStyle:{color:'#666'}},splitLine:{show:false},
    axisTick:{show:true,length:3,lineStyle:{color:'#555'},customValues:P.s.ticks},
    axisLabel:{fontSize:10.5,color:'#111',margin:7,fontFamily:FONT,customValues:P.s.ticks,formatter:P.s.fmt}});
  const bars=[],N=120;
  for(let k=0;k<N;k++)bars.push([P.s.min+(P.s.max-P.s.min)*k/N,P.s.min+(P.s.max-P.s.min)*(k+1)/N]);
  option.series.push({type:'custom',xAxisIndex:bi,yAxisIndex:bi,silent:true,clip:true,encode:{y:[0,1]},
    renderItem:(params,api)=>{const lo=api.value(0),hi=api.value(1);
      const a=api.coord([0,hi]),b=api.coord([1,lo]);
      const y0=Math.floor(a[1]),y1=Math.ceil(b[1]);
      return {type:'rect',shape:{x:a[0],y:y0,width:b[0]-a[0],height:y1-y0},style:{fill:color((lo+hi)/2)}};},
    data:bars});
});
const chart=echarts.init(document.getElementById('c'),null,{renderer:'canvas',width:1345,height:1092});
chart.setOption(option);
</script></body></html>
